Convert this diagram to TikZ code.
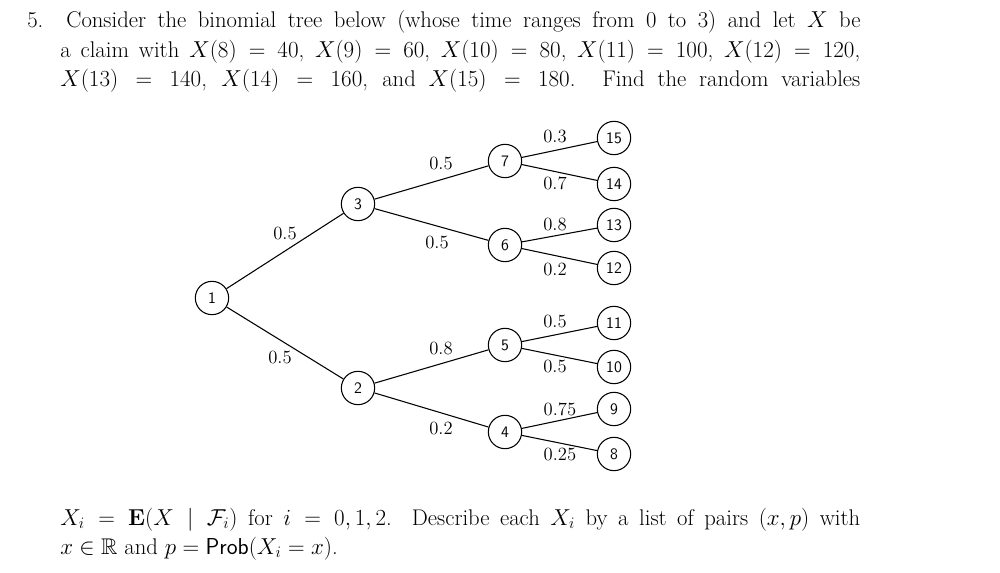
\documentclass[tikz,border=0pt]{standalone}
\usepackage{amsmath}
\usepackage{amssymb}
\usetikzlibrary{positioning}
\begin{document}
\begin{tikzpicture}[
        x=0.75pt, y=-0.75pt,
        txt/.style={anchor=base west, inner sep=0pt, font=\fontsize{17}{22}\selectfont},
        state/.style={circle, draw, thick, minimum size=25pt, inner sep=0pt, font=\sffamily\fontsize{12}{14}\selectfont},
        prob/.style={inner sep=1pt, font=\fontsize{14}{16}\selectfont},
        edge/.style={thick}
    ]
    \useasboundingbox (0,0) rectangle (1000,573);

    % Question text
    \node[txt] (l1) at (27,28) {\makebox[625pt][s]{5. Consider the binomial tree below (whose time ranges from 0 to 3) and let $X$ be}};
    \node[txt] (l2) at (60,58) {\makebox[600pt][s]{a claim with $X(8)=40$, $X(9)=60$, $X(10)=80$, $X(11)=100$, $X(12)=120$,}};
    \node[txt] (l3) at (60,87) {\makebox[600pt][s]{$X(13)=140$, $X(14)=160$, and $X(15)=180$. Find the random variables}};
    \node[txt] (l4) at (60,525) {\makebox[600pt][s]{$X_i=\mathbf{E}(X\mid\mathcal{F}_i)$ for $i=0,1,2$. Describe each $X_i$ by a list of pairs $(x,p)$ with}};
    \node[txt] (l5) at (60,554) {$x\in\mathbb{R}$ and $p=\mathsf{Prob}(X_i=x)$.};

    % States
    \node[state] (s1) at (212,298) {1};
    \node[state] (s3) at (358,204) {3};
    \node[state] (s2) at (358,388) {2};
    \node[state] (s7) at (505,161) {7};
    \node[state] (s6) at (505,245) {6};
    \node[state] (s5) at (505,345) {5};
    \node[state] (s4) at (505,432) {4};
    \node[state] (s15) at (614,138) {15};
    \node[state] (s14) at (614,184) {14};
    \node[state] (s13) at (614,225) {13};
    \node[state] (s12) at (614,268) {12};
    \node[state] (s11) at (614,323) {11};
    \node[state] (s10) at (614,367) {10};
    \node[state] (s9) at (614,409) {9};
    \node[state] (s8) at (614,454) {8};

    % Branches
    \draw[edge] (s1) -- (s3);
    \draw[edge] (s1) -- (s2);
    \draw[edge] (s3) -- (s7);
    \draw[edge] (s3) -- (s6);
    \draw[edge] (s2) -- (s5);
    \draw[edge] (s2) -- (s4);
    \draw[edge] (s7) -- (s15);
    \draw[edge] (s7) -- (s14);
    \draw[edge] (s6) -- (s13);
    \draw[edge] (s6) -- (s12);
    \draw[edge] (s5) -- (s11);
    \draw[edge] (s5) -- (s10);
    \draw[edge] (s4) -- (s9);
    \draw[edge] (s4) -- (s8);

    % Probabilities
    \node[prob] (p13) at (285,233) {0.5};
    \node[prob] (p12) at (280,357) {0.5};
    \node[prob] (p37) at (441,163) {0.5};
    \node[prob] (p36) at (437,242) {0.5};
    \node[prob] (p25) at (441,348) {0.8};
    \node[prob] (p24) at (441,428) {0.2};
    \node[prob] (p715) at (555,136) {0.3};
    \node[prob] (p714) at (555,183) {0.7};
    \node[prob] (p613) at (555,224) {0.8};
    \node[prob] (p612) at (555,269) {0.2};
    \node[prob] (p511) at (555,321) {0.5};
    \node[prob] (p510) at (555,366) {0.5};
    \node[prob] (p49) at (560,409) {0.75};
    \node[prob] (p48) at (560,454) {0.25};
\end{tikzpicture}
\end{document}
